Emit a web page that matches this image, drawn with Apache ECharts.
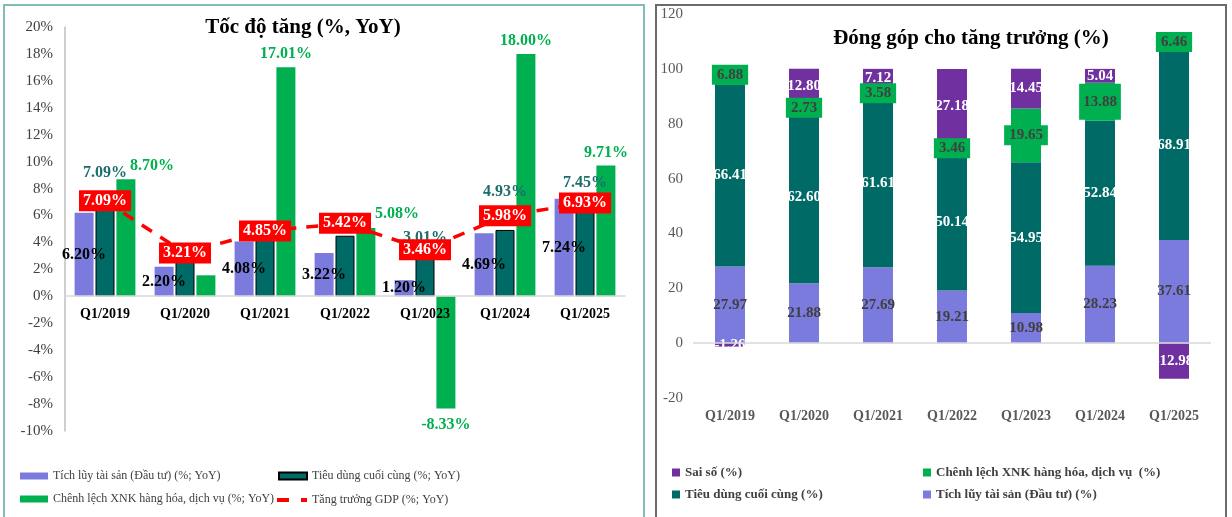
<!DOCTYPE html>
<html>
<head>
<meta charset="utf-8">
<script src="https://cdn.jsdelivr.net/npm/echarts@6/dist/echarts.min.js"></script>
<style>
  html, body { margin: 0; padding: 0; background: #fff; }
  #chart { width: 1232px; height: 517px; }
</style>
</head>
<body>
<div id="chart"></div>
<script>
// data
const quarters = ['Q1/2019', 'Q1/2020', 'Q1/2021', 'Q1/2022', 'Q1/2023', 'Q1/2024', 'Q1/2025'];

// left: growth rates (%, YoY)
const investGrowth = [6.20, 2.20, 4.08, 3.22, 1.20, 4.69, 7.24];
const consumeGrowth = [7.09, 2.70, 4.30, 4.50, 3.01, 4.93, 7.45];
const netExportGrowth = [8.70, 1.56, 17.01, 5.08, -8.33, 18.00, 9.71];
const gdpGrowth = [7.09, 3.21, 4.85, 5.42, 3.46, 5.98, 6.93];

// right: contribution to growth (%)
const investShare = [27.97, 21.88, 27.69, 19.21, 10.98, 28.23, 37.61];
const consumeShare = [66.41, 62.60, 61.61, 50.14, 54.95, 52.84, 68.91];
const netExportShare = [6.88, 2.73, 3.58, 3.46, 19.65, 13.88, 6.46];
const errorShare = [-1.26, 12.80, 7.12, 27.18, 14.45, 5.04, -12.98];

const SERIF = '"Liberation Serif", "Times New Roman", serif';
const C_INV = '#7B7BDD', C_CON = '#006A66', C_NX = '#00B050', C_ERR = '#7030A0';

const pct = p => p.value.toFixed(2) + '%';
const num = p => p.value.toFixed(2);

// per-point label tweaks for consumption (some labels were hidden behind GDP boxes)
const conLabelDist = [20, null, null, null, 10, 30, 5];
const consumeData = consumeGrowth.map((v, i) => ({
  value: v,
  label: conLabelDist[i] == null ? { show: false } : { distance: conLabelDist[i] }
}));
const netExportData = netExportGrowth.map((v, i) => {
  if (i === 1) return { value: v, label: { show: false } };
  if (v < 0) return { value: v, label: { position: 'bottom', distance: 8 } };
  if (i === 0) return { value: v, label: { offset: [26, 0] } };
  if (i === 3) return { value: v, label: { offset: [31, 0], distance: 6 } };
  return v;
});
// the 2024 net-export box in the right chart is drawn taller
const netShareData = netExportShare.map((v, i) =>
  i === 5 ? { value: v, label: { padding: [11, 4, 10, 4] } } : v);

const chart = echarts.init(document.getElementById('chart'));

const leftLegendBase = {
  padding: 0, icon: 'rect', itemWidth: 28, itemHeight: 7, itemGap: 5,
  textStyle: { fontFamily: SERIF, fontSize: 12, color: '#404040' }
};
const rightLegendBase = {
  padding: 0, icon: 'rect', itemWidth: 8, itemHeight: 8, itemGap: 5,
  textStyle: { fontFamily: SERIF, fontSize: 13, fontWeight: 'bold', color: '#404040' }
};

chart.setOption({
  animation: false,
  textStyle: { fontFamily: SERIF },
  graphic: [
    { type: 'rect', shape: { x: 4, y: 5, width: 640, height: 530 },
      style: { fill: 'none', stroke: '#7FBDB6', lineWidth: 2 } },
    { type: 'rect', shape: { x: 656, y: 5, width: 570, height: 530 },
      style: { fill: 'none', stroke: '#6B6B6B', lineWidth: 2 } }
  ],
  title: [
    { text: 'Tốc độ tăng (%, YoY)', left: 298, top: 12, textAlign: 'center',
      textStyle: { fontFamily: SERIF, fontSize: 21, fontWeight: 'bold', color: '#000' } },
    { text: 'Đóng góp cho tăng trưởng (%)', left: 966, top: 23, textAlign: 'center',
      textStyle: { fontFamily: SERIF, fontSize: 21, fontWeight: 'bold', color: '#000' } }
  ],
  legend: [
    Object.assign({}, leftLegendBase, { left: 20, top: 470, data: ['Tích lũy tài sản (Đầu tư) (%; YoY)'] }),
    Object.assign({}, leftLegendBase, { left: 278, top: 470, data: ['Tiêu dùng cuối cùng (%; YoY)'] }),
    Object.assign({}, leftLegendBase, { left: 20, top: 493, data: ['Chênh lệch XNK hàng hóa, dịch vụ (%; YoY)'] }),
    Object.assign({}, leftLegendBase, { left: 277, top: 494, itemWidth: 30, itemHeight: 4,
      icon: 'path://M0,0h12v4h-12z M24,0h6v4h-6z',
      data: ['Tăng trưởng GDP (%; YoY)'] }),
    Object.assign({}, rightLegendBase, { left: 672, top: 466, data: ['Sai số (%)'] }),
    Object.assign({}, rightLegendBase, { left: 923, top: 466, data: ['Chênh lệch XNK hàng hóa, dịch vụ  (%)'] }),
    Object.assign({}, rightLegendBase, { left: 672, top: 488, data: ['Tiêu dùng cuối cùng (%)'] }),
    Object.assign({}, rightLegendBase, { left: 923, top: 488, data: ['Tích lũy tài sản (Đầu tư) (%)'] })
  ],
  grid: [
    { left: 65, top: 27, width: 560, height: 404 },
    { left: 693, top: 14, width: 518, height: 384 }
  ],
  xAxis: [
    { type: 'category', gridIndex: 0, data: quarters, position: 'bottom', offset: -135, z: 3,
      axisLine: { onZero: false, lineStyle: { color: '#D9D9D9', width: 1.5 } },
      axisTick: { show: false },
      axisLabel: { margin: 11, fontFamily: SERIF, fontSize: 14, fontWeight: 'bold', color: '#000' } },
    { type: 'category', gridIndex: 1, data: quarters,
      axisLine: { show: false }, axisTick: { show: false },
      axisLabel: { margin: 11, fontFamily: SERIF, fontSize: 14, fontWeight: 'bold', color: '#595959' } }
  ],
  yAxis: [
    { type: 'value', gridIndex: 0, min: -10, max: 20, interval: 2,
      axisLine: { show: true, lineStyle: { color: '#BFBFBF', width: 1.5 } },
      axisTick: { show: false }, splitLine: { show: false },
      axisLabel: { formatter: '{value}%', margin: 12, fontFamily: SERIF, fontSize: 15, color: '#404040' } },
    { type: 'value', gridIndex: 1, min: -20, max: 120, interval: 20,
      axisLine: { show: false }, axisTick: { show: false }, splitLine: { show: false },
      axisLabel: { margin: 10, fontFamily: SERIF, fontSize: 15, color: '#595959' } }
  ],
  series: [
    // left chart
    { name: 'Tích lũy tài sản (Đầu tư) (%; YoY)', type: 'bar', xAxisIndex: 0, yAxisIndex: 0,
      data: investGrowth, barWidth: 19, barGap: '10%',
      itemStyle: { color: C_INV },
      label: { show: true, position: 'inside', formatter: pct,
        fontFamily: SERIF, fontSize: 16, fontWeight: 'bold', color: '#000' } },
    { name: 'Tiêu dùng cuối cùng (%; YoY)', type: 'bar', xAxisIndex: 0, yAxisIndex: 0,
      data: consumeData, barWidth: 19, barGap: '10%',
      itemStyle: { color: C_CON, borderColor: '#000', borderWidth: 1 },
      label: { show: true, position: 'top', formatter: pct,
        fontFamily: SERIF, fontSize: 16, fontWeight: 'bold', color: '#1B6E6C' } },
    { name: 'Chênh lệch XNK hàng hóa, dịch vụ (%; YoY)', type: 'bar', xAxisIndex: 0, yAxisIndex: 0,
      data: netExportData, barWidth: 19, barGap: '10%',
      itemStyle: { color: C_NX },
      label: { show: true, position: 'top', distance: 5, formatter: pct,
        fontFamily: SERIF, fontSize: 16, fontWeight: 'bold', color: '#00B050' } },
    { name: 'Tăng trưởng GDP (%; YoY)', type: 'line', xAxisIndex: 0, yAxisIndex: 0,
      data: gdpGrowth, symbol: 'rect', symbolSize: 1, z: 5,
      itemStyle: { color: '#FF0000' },
      lineStyle: { color: '#FF0000', width: 3.5, type: [12, 10] },
      label: { show: true, position: 'inside', formatter: pct,
        backgroundColor: '#FF0000', padding: [3, 4, 2, 4],
        fontFamily: SERIF, fontSize: 16, fontWeight: 'bold', color: '#fff' } },

    // right chart (stacked)
    { name: 'Tích lũy tài sản (Đầu tư) (%)', type: 'bar', xAxisIndex: 1, yAxisIndex: 1,
      stack: 'share', data: investShare, barWidth: 30,
      itemStyle: { color: C_INV },
      label: { show: true, position: 'inside', formatter: num,
        fontFamily: SERIF, fontSize: 15, fontWeight: 'bold', color: '#404040' },
      markLine: { silent: true, symbol: 'none', label: { show: false },
        lineStyle: { color: '#D9D9D9', type: 'solid', width: 1.5 },
        data: [{ yAxis: 0 }] } },
    { name: 'Tiêu dùng cuối cùng (%)', type: 'bar', xAxisIndex: 1, yAxisIndex: 1,
      stack: 'share', data: consumeShare, barWidth: 30,
      itemStyle: { color: C_CON },
      label: { show: true, position: 'inside', formatter: num,
        fontFamily: SERIF, fontSize: 15, fontWeight: 'bold', color: '#fff' } },
    { name: 'Chênh lệch XNK hàng hóa, dịch vụ  (%)', type: 'bar', xAxisIndex: 1, yAxisIndex: 1,
      stack: 'share', data: netShareData, barWidth: 30,
      itemStyle: { color: C_NX },
      label: { show: true, position: 'inside', formatter: num,
        backgroundColor: C_NX, padding: [3, 5, 2, 5],
        fontFamily: SERIF, fontSize: 15, fontWeight: 'bold', color: '#404040' } },
    { name: 'Sai số (%)', type: 'bar', xAxisIndex: 1, yAxisIndex: 1,
      stack: 'share', data: errorShare, barWidth: 30,
      itemStyle: { color: C_ERR },
      label: { show: true, position: 'inside', formatter: num,
        fontFamily: SERIF, fontSize: 15, fontWeight: 'bold', color: '#fff' } }
  ]
});
</script>
</body>
</html>
